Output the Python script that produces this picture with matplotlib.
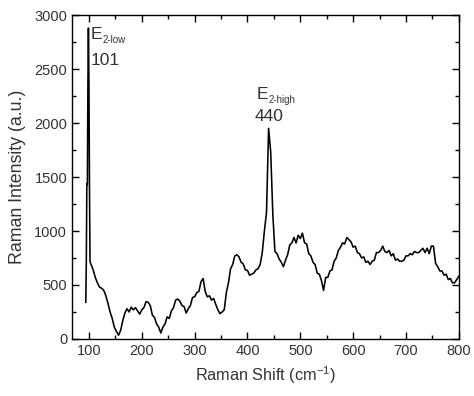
import numpy as np
import matplotlib.pyplot as plt
from matplotlib.ticker import MultipleLocator

plt.rcParams['font.family'] = ['Liberation Sans', 'DejaVu Sans']
plt.rcParams['mathtext.fontset'] = 'custom'
plt.rcParams['mathtext.rm'] = 'Liberation Sans'

# Raman spectrum
peak_shift = [94, 95, 96, 97, 98, 99, 100, 101, 102, 103]
peak_int = [340, 710, 1440, 1430, 2350, 2880, 2350, 1400, 720, 700]

shift = list(range(104, 801, 4))
intensity = [
    690, 640, 570, 520, 480, 470, 450, 400, 330, 250,
    190, 110, 70, 35, 80, 170, 240, 280, 250, 295,
    270, 290, 260, 230, 270, 290, 345, 340, 310, 220,
    200, 140, 110, 55, 110, 140, 205, 190, 260, 290,
    360, 370, 350, 310, 300, 240, 280, 310, 385, 390,
    430, 440, 530, 560, 440, 390, 400, 360, 375, 320,
    270, 235, 250, 270, 430, 520, 650, 690, 770, 780,
    760, 710, 695, 640, 635, 590, 600, 610, 640, 650,
    690, 800, 1000, 1170, 1950, 1730, 1150, 810, 790, 740,
    710, 670, 730, 780, 870, 890, 940, 890, 960, 930,
    980, 890, 880, 790, 770, 710, 690, 610, 600, 540,
    450, 570, 570, 630, 640, 720, 750, 820, 850, 890,
    880, 940, 920, 900, 850, 860, 800, 790, 750, 760,
    710, 720, 690, 720, 730, 800, 800, 820, 860, 810,
    800, 820, 770, 790, 730, 740, 720, 720, 730, 770,
    770, 790, 780, 810, 800, 800, 820, 840, 800, 840,
    790, 860, 860, 700, 670, 630, 630, 590, 600, 550,
    560, 520, 520, 550, 580,
]

x = np.array(peak_shift + shift)
y = np.array(peak_int + intensity)

text_c = '#333333'

fig = plt.figure(figsize=(4.74, 3.96), dpi=100)
ax = fig.add_axes([0.152, 0.144, 0.816, 0.818])
ax.plot(x, y, color='black', lw=1.15)

ax.set_xlim(68, 800)
ax.set_ylim(0, 3000)
ax.xaxis.set_major_locator(MultipleLocator(100))
ax.xaxis.set_minor_locator(MultipleLocator(50))
ax.yaxis.set_major_locator(MultipleLocator(500))
ax.yaxis.set_minor_locator(MultipleLocator(250))
ax.tick_params(which='both', direction='in', top=True, right=True,
               labelsize=10.5, labelcolor=text_c)
ax.tick_params(which='major', length=5, width=1)
ax.tick_params(which='minor', length=3, width=1)
for s in ax.spines.values():
    s.set_linewidth(1)

ax.set_xlabel('Raman Shift (cm$^{-1}$)', fontsize=11.7, color=text_c, labelpad=5)
ax.set_ylabel('Raman Intensity (a.u.)', fontsize=12.8, color=text_c, labelpad=6)

# peak labels: letter + small subscript
ax.text(104, 2780, 'E', fontsize=12.5, color=text_c)
ax.annotate('2-low', xy=(104, 2780), xytext=(8.5, -3), textcoords='offset points',
            fontsize=7, color=text_c)
ax.text(103, 2540, '101', fontsize=12.5, color=text_c)

ax.text(417, 2220, 'E', fontsize=12.5, color=text_c)
ax.annotate('2-high', xy=(417, 2220), xytext=(8.5, -3), textcoords='offset points',
            fontsize=7, color=text_c)
ax.text(440, 2020, '440', fontsize=12.5, color=text_c, ha='center')

fig.savefig('out.png', dpi=100)
